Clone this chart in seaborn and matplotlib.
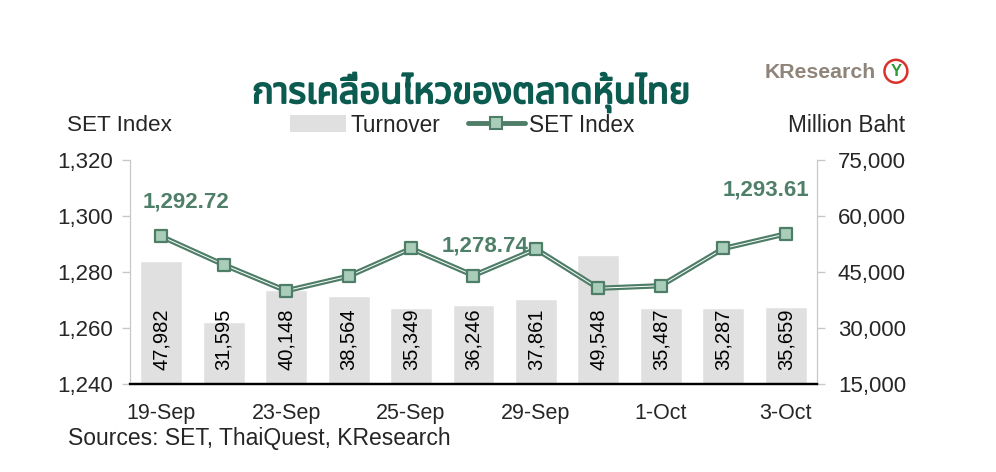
import numpy as np
import pandas as pd
import matplotlib
matplotlib.use("Agg")
import matplotlib.pyplot as plt
import seaborn as sns
from matplotlib import font_manager
from matplotlib.ft2font import FT2Font
from matplotlib.lines import Line2D
from matplotlib.patches import Patch, Ellipse
from matplotlib.ticker import FuncFormatter, FixedLocator
import matplotlib.patheffects as pe

# --- data ---
dates = ['19-Sep', '22-Sep', '23-Sep', '24-Sep', '25-Sep', '26-Sep',
         '29-Sep', '30-Sep', '1-Oct', '2-Oct', '3-Oct']
set_index = [1292.72, 1282.6, 1273.3, 1278.5, 1288.4, 1278.74,
             1288.2, 1274.2, 1275.1, 1288.4, 1293.61]
turnover = [47982, 31595, 40148, 38564, 35349, 36246,
            37861, 49548, 35487, 35287, 35659]
labelled_points = [0, 5, 10]   # points with a value label
shown_dates = dates[::2]

title = 'การเคลื่อนไหวของตลาดหุ้นไทย'

# colours
green = '#4e7d68'
green_fill = '#a9cdb8'
label_green = '#4f7f69'
bar_grey = '#e0e0e0'
axis_grey = '#c8c8c8'
title_col = '#0b5b50'


def find_thai_font():
    preferred = ['Noto Sans Thai', 'Noto Sans Thai UI', 'Noto Sans Thai Looped',
                 'Loma', 'Garuda', 'Norasi', 'Sarabun', 'Tahoma']
    names = {f.name for f in font_manager.fontManager.ttflist}
    for n in preferred:
        if n in names:
            return n
    for f in font_manager.fontManager.ttflist:
        try:
            if FT2Font(f.fname).get_char_index(ord('ก')):
                return f.name
        except Exception:
            pass
    return 'DejaVu Sans'


sns.set_style('white')
plt.rcParams['font.family'] = ['Liberation Sans', 'DejaVu Sans']
thai_font = find_thai_font()

df = pd.DataFrame({'date': dates, 'set': set_index, 'turnover': turnover})
df['pos'] = np.arange(len(df))

fig = plt.figure(figsize=(9.96, 4.72), dpi=100)
ax1 = fig.add_axes([0.1305, 0.1864, 0.6898, 0.4746])
ax2 = ax1.twinx()

# --- turnover bars (right axis) ---
sns.barplot(data=df, x='date', y='turnover', color=bar_grey, width=0.67,
            saturation=1, ax=ax2, zorder=1)
ax2.set_ylim(15000, 75000)
for i, v in enumerate(turnover):
    ax2.annotate(f'{v:,}', xy=(i, 15000), xytext=(0, 10), textcoords='offset points',
                 rotation=90, ha='center', va='bottom', fontsize=14.5, color='black')

# --- SET index line (left axis, drawn on top) ---
ax1.set_zorder(ax2.get_zorder() + 1)
ax1.patch.set_visible(False)
sns.lineplot(data=df, x='pos', y='set', color=green, linewidth=3.8, ax=ax1, zorder=3)
sns.lineplot(data=df, x='pos', y='set', color='white', linewidth=0.7, ax=ax1, zorder=4)
sns.scatterplot(data=df, x='pos', y='set', marker='s', s=85, color=green_fill,
                edgecolor=green, linewidth=1.6, ax=ax1, zorder=5)
ax1.set_ylim(1240, 1320)
ax1.set_xlim(-0.5, len(dates) - 0.5)

offsets = {0: (18, 17), 5: (8, 14), 10: (-14, 24)}
for i in labelled_points:
    ax1.annotate(f'{set_index[i]:,.2f}', xy=(i, set_index[i]), xytext=offsets[i],
                 textcoords='offset points', ha='center', va='bottom',
                 fontsize=16, fontweight='bold', color=label_green)

# --- axes styling ---
fmt = FuncFormatter(lambda v, p: f'{v:,.0f}')
ax1.yaxis.set_major_locator(FixedLocator([1240, 1260, 1280, 1300, 1320]))
ax1.yaxis.set_major_formatter(fmt)
ax2.yaxis.set_major_locator(FixedLocator([15000, 30000, 45000, 60000, 75000]))
ax2.yaxis.set_major_formatter(fmt)

ax1.set_xticks(range(0, len(dates), 2))
ax1.set_xticklabels(shown_dates)
ax1.set_xticks(np.arange(-0.5, len(dates), 1), minor=True)
ax1.tick_params(axis='x', which='major', length=0, labelsize=15.5, pad=14)
ax1.tick_params(axis='x', which='minor', length=7, width=1.2, color='black', direction='out')
ax1.tick_params(axis='y', length=6, width=1, color=axis_grey, labelsize=16, pad=6)
ax2.tick_params(axis='y', length=6, width=1, color=axis_grey, labelsize=16, pad=9)
ax2.tick_params(axis='x', length=0)

for ax in (ax1, ax2):
    ax.set_xlabel('')
    ax.set_ylabel('')
    ax.spines['top'].set_visible(False)
    ax.spines['left'].set_color(axis_grey)
    ax.spines['right'].set_color(axis_grey)
    ax.spines['bottom'].set_color('black')
    ax.spines['bottom'].set_linewidth(1.6)
    ax.grid(False)

# --- texts ---
fig.text(0.473, 0.805, title, ha='center', va='center', fontsize=26,
         fontweight='bold', color=title_col, family=[thai_font, 'DejaVu Sans'],
         path_effects=[pe.withStroke(linewidth=1.3, foreground=title_col)])
fig.text(0.067, 0.735, 'SET Index', ha='left', va='center', fontsize=16.2)
fig.text(0.909, 0.735, 'Million Baht', ha='right', va='center', fontsize=16.3)
fig.text(0.068, 0.072, 'Sources: SET, ThaiQuest, KResearch', ha='left', va='center', fontsize=16.5)

# logo
fig.text(0.879, 0.847, 'KResearch', ha='right', va='center', fontsize=15.3,
         fontweight='bold', color='#8f847a')
fig.add_artist(Ellipse((0.8995, 0.849), 0.023, 0.023 * 996 / 472, transform=fig.transFigure,
                       facecolor='white', edgecolor='#d9322b', linewidth=1.8))
fig.text(0.8995, 0.849, 'Y', ha='center', va='center', fontsize=12,
         fontweight='bold', color='#2e9a3c')

# legend
handles = [Patch(facecolor=bar_grey, edgecolor='none'),
           Line2D([], [], color=green, linewidth=3.5, marker='s', markersize=8,
                  markerfacecolor=green_fill, markeredgecolor=green, markeredgewidth=1.5)]
fig.legend(handles, ['Turnover', 'SET Index'], loc='center', bbox_to_anchor=(0.464, 0.735),
           ncol=2, frameon=False, fontsize=16.3, handlelength=2.5, handleheight=0.8,
           columnspacing=1.2, handletextpad=0.2)

fig.savefig('out.png', dpi=100)
